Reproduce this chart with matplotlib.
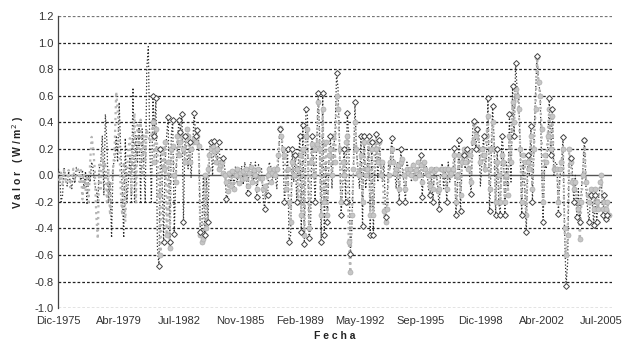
import numpy as np
import pandas as pd
import matplotlib
matplotlib.use("Agg")
import matplotlib.pyplot as plt
from matplotlib.ticker import FuncFormatter

plt.rcParams["font.family"] = ["Liberation Sans", "DejaVu Sans"]

# monthly values, Dec-1975 first, then one row per year (Jan..Dec)
serie_oscura = [
    0.05,
    0.03, -0.2, -0.15, 0.06, -0.02, -0.08, 0.03, -0.05, -0.1, 0.0, -0.06, 0.06,      # 1976
    0.05, 0.02, -0.05, 0.04, -0.1, 0.03, -0.22, 0.0, -0.05, 0.1, 0.05, -0.08,        # 1977
    -0.1, -0.2, 0.05, 0.1, 0.3, -0.15, 0.46, 0.25, -0.2, -0.05, -0.47, 0.08,         # 1978
    0.1, 0.3, 0.1, 0.55, 0.2, -0.1, -0.47, 0.28, -0.2, -0.05, 0.15, -0.2,            # 1979
    0.66, -0.2, 0.3, 0.1, 0.4, -0.2, 0.35, 0.1, -0.2, 0.8, 0.97, 0.2,                # 1980
    -0.2, 0.6, 0.3, 0.58, -0.55, -0.68, 0.2, 0.0, -0.5, 0.1, 0.3, 0.44,              # 1981
    -0.5, 0.3, 0.42, -0.44, 0.0, 0.2, 0.42, 0.33, 0.46, -0.35, 0.3, 0.2,             # 1982
    0.05, 0.25, -0.02, 0.2, 0.47, 0.3, 0.34, 0.25, -0.43, -0.4, 0.0, -0.45,          # 1983
    0.0, -0.35, 0.2, 0.25, 0.0, 0.26, 0.2, 0.1, 0.25, 0.1, 0.05, 0.13,               # 1984
    0.05, -0.18, -0.15, 0.0, -0.05, 0.05, -0.1, 0.07, -0.05, 0.02, 0.0, 0.07,        # 1985
    -0.07, 0.1, 0.0, -0.13, 0.05, 0.1, 0.02, -0.05, 0.1, -0.16, 0.08, 0.03,          # 1986
    0.05, -0.17, -0.25, -0.12, -0.15, 0.1, 0.07, -0.05, 0.05, 0.0, -0.1, 0.1,        # 1987
    0.35, 0.3, 0.15, -0.2, -0.05, 0.2, -0.5, -0.45, 0.2, -0.05, 0.15, -0.2,          # 1988
    0.1, 0.3, -0.43, 0.38, -0.52, 0.5, 0.45, -0.47, -0.4, 0.3, 0.1, -0.2,            # 1989
    0.2, 0.62, 0.3, -0.5, 0.62, -0.45, 0.1, -0.35, 0.1, 0.3, -0.1, 0.2,              # 1990
    0.3, 0.77, 0.66, 0.24, -0.3, -0.1, 0.2, -0.2, 0.47, 0.3, -0.59, -0.4,            # 1991
    0.0, 0.55, 0.2, 0.05, -0.1, 0.3, -0.38, 0.3, -0.1, 0.0, 0.3, -0.45,              # 1992
    0.25, -0.45, 0.0, 0.31, -0.05, 0.27, 0.05, -0.05, 0.1, -0.31, -0.2, 0.1,         # 1993
    0.05, 0.28, 0.15, 0.05, -0.1, 0.1, -0.2, 0.2, 0.05, -0.05, -0.2, 0.1,            # 1994
    0.05, 0.05, -0.05, 0.1, -0.03, 0.0, 0.05, 0.02, 0.15, -0.16, 0.05, 0.1,          # 1995
    0.05, -0.1, -0.15, 0.0, -0.2, 0.06, 0.0, -0.05, -0.25, 0.02, 0.09, -0.1,         # 1996
    0.05, -0.2, 0.1, -0.05, 0.05, 0.0, 0.21, -0.3, -0.1, 0.27, -0.27, 0.1,           # 1997
    0.15, 0.05, 0.2, 0.15, 0.0, -0.14, 0.36, 0.41, 0.2, 0.35, 0.3, -0.08,            # 1998
    0.1, 0.3, 0.02, 0.15, 0.58, -0.27, 0.05, 0.52, 0.25, -0.3, 0.2, -0.2,            # 1999
    -0.3, 0.3, 0.2, -0.3, 0.1, -0.1, 0.46, -0.05, 0.67, 0.3, 0.85, 0.64,             # 2000
    0.6, 0.2, -0.3, 0.1, -0.1, -0.43, 0.15, 0.0, 0.37, -0.2, 0.25, 0.61,             # 2001
    0.9, 0.67, 0.65, 0.1, -0.35, 0.1, 0.05, 0.2, 0.58, 0.15, 0.5, 0.0,               # 2002
    0.1, 0.08, -0.29, 0.0, 0.05, 0.29, -0.4, -0.83, -0.66, 0.1, 0.13, 0.05,          # 2003
    -0.2, 0.0, -0.31, -0.1, -0.35, -0.1, 0.05, 0.27, -0.1, -0.25, -0.35, -0.15,      # 2004
    -0.2, -0.37, -0.15, -0.35, -0.2, -0.1, -0.03, -0.3, -0.15, -0.33, -0.3, -0.35,   # 2005
]

serie_clara = [
    0.02,
    -0.05, 0.02, -0.08, 0.05, -0.06, -0.02, 0.04, -0.09, -0.03, 0.05, -0.04, 0.03,   # 1976
    0.06, -0.05, 0.04, -0.18, 0.02, -0.12, 0.0, -0.2, 0.1, 0.29, 0.2, 0.05,          # 1977
    -0.3, -0.48, 0.1, -0.1, 0.2, 0.05, 0.1, -0.2, 0.05, -0.3, -0.1, 0.05,            # 1978
    0.2, 0.63, 0.5, 0.3, -0.1, -0.3, 0.1, -0.35, 0.0, 0.2, 0.28, -0.15,              # 1979
    0.28, 0.47, -0.2, 0.38, 0.2, 0.42, 0.0, 0.3, 0.1, 0.35, 0.3, 0.25,               # 1980
    0.3, 0.4, 0.1, 0.35, 0.2, -0.15, -0.6, 0.2, 0.05, 0.25, -0.45, 0.1,              # 1981
    -0.55, 0.2, 0.22, 0.0, -0.05, 0.3, 0.15, 0.25, 0.3, 0.2, 0.1, 0.35,              # 1982
    0.3, 0.1, 0.2, 0.25, 0.28, 0.25, 0.3, 0.22, -0.45, -0.5, -0.48, 0.0,             # 1983
    -0.4, 0.05, 0.15, 0.2, 0.22, 0.18, 0.1, 0.2, 0.05, 0.08, 0.1, 0.02,              # 1984
    0.0, -0.05, -0.12, 0.02, -0.08, 0.03, -0.1, 0.0, 0.05, -0.06, 0.02, -0.03,       # 1985
    0.03, -0.02, 0.05, -0.08, 0.02, 0.06, -0.05, 0.04, 0.0, -0.1, 0.05, -0.02,       # 1986
    -0.02, -0.1, -0.08, -0.15, 0.0, 0.05, -0.05, 0.02, 0.05, 0.0, 0.05, 0.15,        # 1987
    0.36, 0.3, 0.2, 0.15, -0.1, 0.05, -0.2, -0.35, 0.1, 0.0, 0.15, 0.05,             # 1988
    -0.2, 0.15, -0.3, 0.2, -0.45, 0.3, 0.35, -0.4, 0.1, 0.24, 0.0, 0.2,              # 1989
    0.24, 0.55, 0.2, -0.3, 0.5, -0.2, 0.25, -0.3, 0.15, 0.2, 0.0, 0.3,               # 1990
    0.1, 0.6, 0.5, 0.2, -0.2, 0.1, 0.0, 0.25, 0.3, -0.5, -0.73, -0.3,                # 1991
    0.05, 0.4, 0.2, 0.02, 0.0, 0.15, -0.2, 0.25, 0.0, 0.05, 0.25, -0.3,              # 1992
    0.2, -0.3, 0.25, 0.2, 0.1, 0.25, 0.0, 0.1, -0.27, -0.35, -0.25, 0.0,             # 1993
    0.1, 0.2, 0.1, 0.02, 0.05, 0.08, -0.1, 0.1, 0.12, 0.0, -0.1, 0.05,               # 1994
    0.02, 0.05, 0.0, 0.08, -0.02, 0.04, 0.1, 0.0, 0.08, -0.05, 0.1, 0.05,            # 1995
    0.02, 0.0, -0.08, 0.05, -0.1, 0.03, 0.05, -0.12, -0.1, 0.05, 0.05, 0.0,          # 1996
    0.05, -0.1, 0.05, 0.0, 0.02, 0.05, 0.15, -0.2, 0.0, 0.15, -0.15, 0.1,            # 1997
    0.2, 0.1, 0.18, 0.05, 0.15, -0.05, 0.25, 0.4, 0.3, 0.35, 0.2, 0.1,               # 1998
    0.2, 0.15, 0.05, 0.3, 0.45, -0.1, 0.2, 0.4, 0.2, -0.2, 0.1, 0.0,                 # 1999
    -0.2, 0.15, 0.1, -0.2, 0.0, -0.15, 0.3, 0.1, 0.55, 0.4, 0.65, 0.6,               # 2000
    0.5, 0.2, -0.2, 0.15, 0.1, -0.3, 0.1, 0.05, 0.3, -0.1, 0.2, 0.5,                 # 2001
    0.89, 0.7, 0.6, 0.35, -0.2, 0.15, 0.1, 0.3, 0.5, 0.2, 0.45, 0.05,                # 2002
    0.05, 0.05, -0.2, 0.05, 0.1, 0.2, -0.4, -0.6, -0.45, 0.2, 0.1, -0.05,            # 2003
    -0.1, -0.05, -0.2, -0.25, -0.48, -0.2, 0.0, 0.27, -0.05, -0.15, -0.2, -0.1,      # 2004
    -0.15, -0.25, -0.1, -0.2, -0.25, -0.05, 0.0, -0.25, -0.2, -0.25, -0.2, -0.3,     # 2005
]

etiquetas_x = ["Dic-1975", "Abr-1979", "Jul-1982", "Nov-1985", "Feb-1989",
               "May-1992", "Sep-1995", "Dic-1998", "Abr-2002", "Jul-2005"]
fechas_ticks = ["1975-12-01", "1979-04-01", "1982-07-01", "1985-11-01", "1989-02-01",
                "1992-05-01", "1995-09-01", "1998-12-01", "2002-04-01", "2005-07-01"]

fechas = pd.date_range("1975-12-01", periods=len(serie_oscura), freq="MS")

fig = plt.figure(figsize=(6.3, 3.42), dpi=100)
ax = fig.add_axes([0.092, 0.099, 0.879, 0.854])

# horizontal grid
for v in np.arange(-1.0, 1.21, 0.2):
    if abs(v) < 1e-9:
        continue
    ax.axhline(v, color="#222222" if v < 1.1 else "#777777",
               lw=0.9, ls=(0, (2.2, 1.6)), zorder=1)
ax.axhline(0, color="#555555", lw=1.0, zorder=2)

# markers only at the spike tips (local extremes), from 1981 on
arr = np.array(serie_oscura)
picos = np.zeros(len(arr), dtype=bool)
picos[1:-1] = ((arr[1:-1] > arr[:-2]) & (arr[1:-1] > arr[2:])) | \
              ((arr[1:-1] < arr[:-2]) & (arr[1:-1] < arr[2:]))
picos &= np.abs(arr) > 0.12
picos[:62] = False

ax.plot(fechas, serie_oscura, color="#2a2a2a", lw=0.9, ls=":", zorder=3)
ax.plot(fechas, serie_clara, color="#b5b5b5", lw=1.6, ls=":", zorder=4,
        marker="o", ms=3.6, mfc="#c6c6c6", mec="#adadad", mew=0.5,
        markevery=slice(62, None))
ax.plot(fechas, serie_oscura, ls="none", marker="D", ms=3.0, mfc="white",
        mec="#444444", mew=0.7, markevery=picos, zorder=5)

ax.set_ylim(-1.0, 1.2)
ax.set_xlim(pd.Timestamp("1975-12-01"), pd.Timestamp("2006-01-25"))
ax.set_yticks(np.arange(-1.0, 1.21, 0.2))
ax.yaxis.set_major_formatter(FuncFormatter(lambda v, p: f"{v:.1f}".replace("-0.0", "0.0")))
ax.set_xticks(pd.to_datetime(fechas_ticks))
ax.set_xticklabels(etiquetas_x)
ax.tick_params(axis="both", labelsize=8, labelcolor="#333333", length=0, pad=3)
ax.tick_params(axis="x", pad=6)

for s in ["top", "right", "bottom"]:
    ax.spines[s].set_visible(False)
ax.spines["left"].set_color("#444444")
ax.spines["left"].set_linewidth(0.9)

ax.set_ylabel("V a l o r   ( W / m$^2$ )", fontsize=7.5, fontweight="bold",
              color="#222222", labelpad=6)
ax.set_xlabel("F e c h a", fontsize=7.5, fontweight="bold", color="#222222",
              labelpad=3)

fig.savefig("out.png", dpi=100)
